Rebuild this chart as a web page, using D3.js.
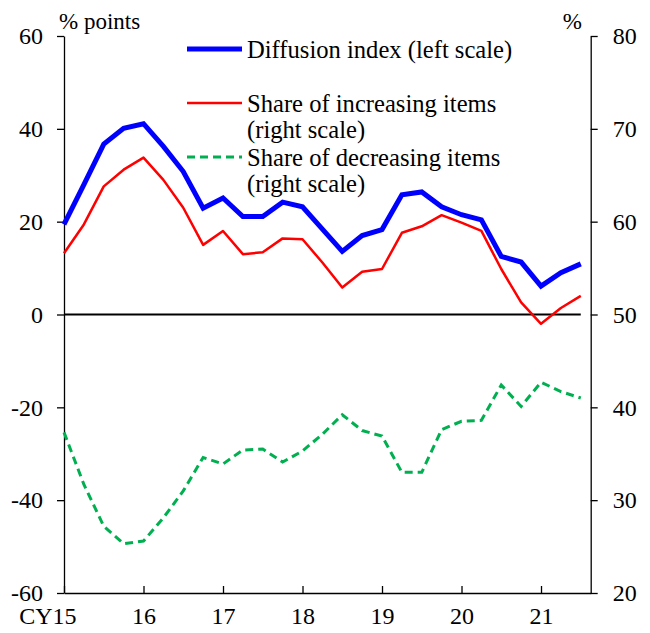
<!DOCTYPE html>
<html>
<head>
<meta charset="utf-8">
<script src="https://cdn.jsdelivr.net/npm/d3@7"></script>
<style>
  body { margin: 0; background: #fff; }
  svg text { fill: #000; }
</style>
</head>
<body>
<div class="d3"></div>
<script>
// quarterly, CY15Q1 .. CY21Q3
const yearTicks = [0, 4, 8, 12, 16, 20, 24];
const yearLabels = ['CY15', '16', '17', '18', '19', '20', '21'];

const diffusion = [19.4, 28.0, 36.7, 40.1, 41.1, 36.2, 30.8, 22.9, 25.1, 21.1, 21.1, 24.2, 23.2, 18.4,
  13.6, 17.0, 18.3, 25.8, 26.4, 23.2, 21.5, 20.4, 12.5, 11.3, 6.1, 9.0, 10.9];
const increasing = [56.6, 59.7, 63.8, 65.6, 66.9, 64.5, 61.5, 57.5, 59.0, 56.5, 56.7, 58.2, 58.1, 55.6,
  52.9, 54.6, 54.9, 58.8, 59.5, 60.7, 59.9, 59.0, 54.9, 51.3, 49.0, 50.7, 52.0];
const decreasing = [37.3, 31.7, 27.2, 25.3, 25.6, 28.1, 31.0, 34.6, 33.9, 35.4, 35.5, 34.1, 35.3, 37.1,
  39.2, 37.5, 36.9, 33.0, 33.0, 37.6, 38.5, 38.6, 42.4, 40.1, 42.7, 41.7, 41.0];

const leftTicks = [-60, -40, -20, 0, 20, 40, 60];
const rightTicks = [20, 30, 40, 50, 60, 70, 80];

const legendItems = [
  { lines: ['Diffusion index (left scale)'], color: '#0000ff', width: 5, dash: null },
  { lines: ['Share of increasing items', '(right scale)'], color: '#ff0000', width: 2.5, dash: null },
  { lines: ['Share of decreasing items', '(right scale)'], color: '#00b050', width: 3, dash: '8,5' }
];

const serif = "'Liberation Serif', 'Times New Roman', serif";

let width = 650;
let height = 633;

let svg = d3.select('.d3').append('svg')
  .attr('width', width)
  .attr('height', height);

let x = d3.scaleLinear().domain([0, 26.5]).range([64, 590.7]);
let yL = d3.scaleLinear().domain([-60, 60]).range([593, 36]);
let yR = d3.scaleLinear().domain([20, 80]).range([593, 36]);

// axes
let leftAxis = svg.append('g')
  .attr('transform', `translate(${x(0)},0)`)
  .call(d3.axisLeft(yL).tickValues(leftTicks).tickSize(7).tickSizeOuter(0).tickPadding(14)
    .tickFormat(d => String(d)));

let rightAxis = svg.append('g')
  .attr('transform', `translate(${x(26.5)},0)`)
  .call(d3.axisRight(yR).tickValues(rightTicks).tickSize(7).tickSizeOuter(0).tickPadding(15));

let bottomAxis = svg.append('g')
  .attr('transform', `translate(0,${yL(-60)})`)
  .call(d3.axisBottom(x).tickValues(yearTicks).tickSize(-7).tickSizeOuter(0).tickPadding(14)
    .tickFormat((d, i) => yearLabels[i]));

bottomAxis.selectAll('.tick text').filter((d, i) => i === 0)
  .attr('text-anchor', 'end')
  .attr('x', 12);

svg.selectAll('.domain, .tick line').attr('stroke', '#000').attr('stroke-width', 1.3);
svg.selectAll('.tick text').style('font-size', '24px').style('font-family', serif).attr('fill', '#000');

// zero line
svg.append('line')
  .attr('x1', x(0)).attr('x2', x(26))
  .attr('y1', yL(0)).attr('y2', yL(0))
  .attr('stroke', '#000').attr('stroke-width', 2);

// unit labels
svg.append('text').attr('x', 59).attr('y', 29).style('font-size', '23px').style('font-family', serif).text('% points');
svg.append('text').attr('x', 582).attr('y', 29).attr('text-anchor', 'end').style('font-size', '23px').style('font-family', serif).text('%');

// series
let line = (scale) => d3.line().x((d, i) => x(i)).y(d => scale(d));

svg.append('path').datum(decreasing)
  .attr('fill', 'none').attr('stroke', '#00b050').attr('stroke-width', 3)
  .attr('stroke-dasharray', '8,5').attr('d', line(yR));

svg.append('path').datum(increasing)
  .attr('fill', 'none').attr('stroke', '#ff0000').attr('stroke-width', 2.5)
  .attr('stroke-linejoin', 'round').attr('d', line(yR));

svg.append('path').datum(diffusion)
  .attr('fill', 'none').attr('stroke', '#0000ff').attr('stroke-width', 5)
  .attr('d', line(yL));

// legend
let legendY = [49, 103, 157];
let legend = svg.append('g');
legendItems.forEach((item, i) => {
  legend.append('line')
    .attr('x1', 187).attr('x2', 242)
    .attr('y1', legendY[i]).attr('y2', legendY[i])
    .attr('stroke', item.color).attr('stroke-width', item.width)
    .attr('stroke-dasharray', item.dash);
  item.lines.forEach((t, j) => {
    legend.append('text')
      .attr('x', 247)
      .attr('y', legendY[i] + 8.5 + j * 26)
      .style('font-size', '24.6px')
      .style('font-family', serif)
      .text(t);
  });
});
</script>
</body>
</html>
